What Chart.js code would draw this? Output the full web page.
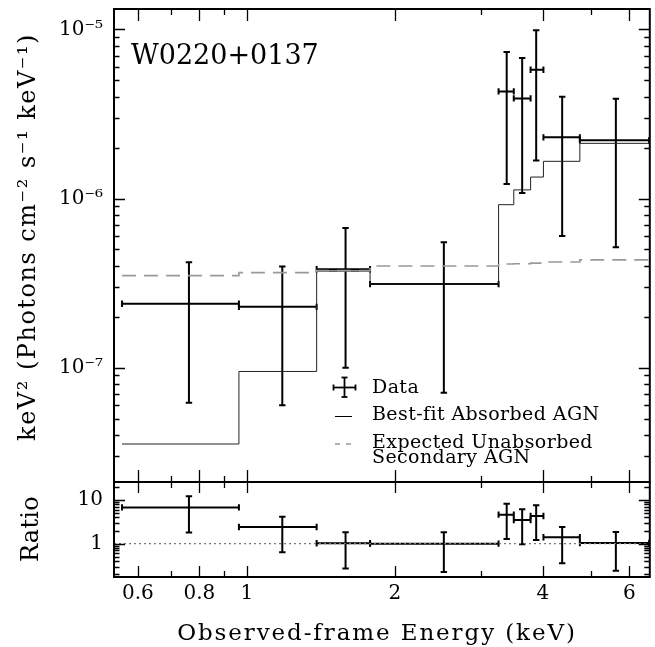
<!DOCTYPE html>
<html><head><meta charset="utf-8">
<script src="https://cdn.jsdelivr.net/npm/chart.js@4.4.0/dist/chart.umd.min.js"></script>
<style>
html,body{margin:0;padding:0;background:#fff;}
#wrap{position:relative;width:655px;height:647px;overflow:hidden;background:#fff}
#top{position:absolute;left:0;top:0}
#bot{position:absolute;left:0;top:470px}
</style></head><body>
<div id="wrap"><canvas id="top" width="655" height="490"></canvas><canvas id="bot" width="655" height="177"></canvas></div>
<script>
// ---- data ----
const binLo  = [0.557, 0.963, 1.386, 1.78, 3.25, 3.49, 3.776, 4.01, 4.756];
const binHi  = [0.963, 1.386, 1.78, 3.25, 3.49, 3.776, 4.01, 4.756, 6.58];
const energy = [0.762, 1.18, 1.587, 2.515, 3.376, 3.63, 3.876, 4.378, 5.63];
const flux   = [2.39e-7, 2.29e-7, 3.82e-7, 3.12e-7, 4.3e-6, 3.91e-6, 5.77e-6, 2.30e-6, 2.21e-6];
const fluxLo = [6.2e-8, 6.0e-8, 1.0e-7, 7.1e-8, 1.22e-6, 1.08e-6, 1.68e-6, 6.0e-7, 5.15e-7];
const fluxHi = [4.2e-7, 3.96e-7, 6.7e-7, 5.52e-7, 7.34e-6, 6.77e-6, 9.9e-6, 4.0e-6, 3.89e-6];
const bestFit    = [3.54e-8, 9.5e-8, 3.72e-7, 3.12e-7, 9.2e-7, 1.125e-6, 1.34e-6, 1.66e-6, 2.12e-6];
const unabsorbed = [3.5e-7, 3.65e-7, 3.75e-7, 3.99e-7, 4.1e-7, 4.12e-7, 4.15e-7, 4.22e-7, 4.34e-7];
const ratio   = [6.75, 2.41, 1.02, 1.0, 4.61, 3.48, 4.3, 1.40, 1.04];
const ratioLo = [1.79, 0.635, 0.27, 0.225, 1.28, 0.97, 1.22, 0.356, 0.24];
const ratioHi = [12.2, 4.15, 1.82, 1.82, 8.2, 6.1, 7.6, 2.41, 1.85];

const xTicksMajor = [0.6, 0.8, 1, 2, 4, 6];
const xTickLabels = ['0.6', '0.8', '1', '2', '4', '6'];
const xTicksMinor = [0.7, 0.9, 3, 5];
const yTicksMajor = [1e-7, 1e-6, 1e-5];
const yTickLabels = ['10⁻⁷', '10⁻⁶', '10⁻⁵'];
const rTicksMajor = [1, 10];
const rTickLabels = ['1', '10'];

const X_MIN = 0.5364, X_MAX = 6.60;
const Y_MIN = 2.11e-8, Y_MAX = 1.32e-5;
const R_MIN = 0.173, R_MAX = 25.7;

const FONT = "'DejaVu Serif', serif";
Chart.defaults.font.family = FONT;
Chart.defaults.color = '#000';

function minorLog(min, max) {
  const out = [];
  for (let e = Math.floor(Math.log10(min)); e <= Math.ceil(Math.log10(max)); e++) {
    for (let m = 2; m <= 9; m++) { const v = m * Math.pow(10, e); if (v > min && v < max) out.push(v); }
  }
  return out;
}
function labelFor(majors, labels) {
  return v => { for (let i = 0; i < majors.length; i++) if (Math.abs(Math.log10(v) - Math.log10(majors[i])) < 1e-6) return labels[i]; return ''; };
}
function hBars(y) { const p = []; y.forEach((v, i) => p.push({x: binLo[i], y: v}, {x: binHi[i], y: v}, {x: binHi[i], y: null})); return p; }
function vBars(lo, hi) { const p = []; lo.forEach((v, i) => p.push({x: energy[i], y: v}, {x: energy[i], y: hi[i]}, {x: energy[i], y: null})); return p; }
function steps(v) { const p = v.map((val, i) => ({x: binLo[i], y: val})); p.push({x: binHi[v.length - 1], y: v[v.length - 1]}); return p; }

const errH = {showLine: true, spanGaps: false, borderColor: '#000', borderWidth: 2, pointStyle: 'line', pointRotation: 90, pointRadius: 3.2, pointBorderWidth: 2, pointBorderColor: '#000', pointHoverRadius: 0};
const errV = {showLine: true, spanGaps: false, borderColor: '#000', borderWidth: 2, pointStyle: 'line', pointRotation: 0, pointRadius: 3.2, pointBorderWidth: 2, pointBorderColor: '#000', pointHoverRadius: 0};

function spaced(ctx, px) { try { ctx.letterSpacing = px + 'px'; } catch (e) {} }

function drawText(ctx, text, x, y, size, spacing, rot, align) {
  ctx.save();
  ctx.translate(x, y);
  if (rot) ctx.rotate(rot);
  ctx.font = size + 'px ' + FONT;
  spaced(ctx, spacing);
  ctx.fillStyle = '#000';
  ctx.textAlign = align || 'center';
  ctx.textBaseline = 'middle';
  ctx.fillText(text, 0, 0);
  ctx.restore();
}

function framePlugin(o) {
  return {
    id: 'frame',
    afterDatasetsDraw(chart) {
      const {ctx, chartArea: a, scales} = chart;
      const xs = scales.x, ys = scales.y;
      ctx.save();
      ctx.strokeStyle = '#000';
      ctx.lineWidth = 1.3;
      ctx.beginPath();
      const xt = [[xTicksMajor, o.xMaj], [xTicksMinor, o.xMin]];
      for (const [vals, len] of xt) for (const v of vals) {
        const px = Math.round(xs.getPixelForValue(v)) + 0.5;
        ctx.moveTo(px, a.top); ctx.lineTo(px, a.top + len);
        ctx.moveTo(px, a.bottom); ctx.lineTo(px, a.bottom - len);
      }
      const yt = [[o.yMajor, 11], [o.yMinor, 5.5]];
      for (const [vals, len] of yt) for (const v of vals) {
        const py = Math.round(ys.getPixelForValue(v)) + 0.5;
        ctx.moveTo(a.left, py); ctx.lineTo(a.left + len, py);
        ctx.moveTo(a.right, py); ctx.lineTo(a.right - len, py);
      }
      ctx.stroke();
      ctx.lineWidth = 2;
      ctx.strokeRect(a.left, a.top, a.width, a.height);
      ctx.restore();
      if (o.extra) o.extra(chart);
    }
  };
}

function seg(ctx, x1, y1, x2, y2) { ctx.beginPath(); ctx.moveTo(x1, y1); ctx.lineTo(x2, y2); ctx.stroke(); }

function topAnnotations(chart) {
  const ctx = chart.ctx;
  drawText(ctx, 'keV² (Photons cm⁻² s⁻¹ keV⁻¹)', 28.5, 237, 24, 1.5, -Math.PI / 2);
  drawText(ctx, 'W0220+0137', 131, 57, 27, 0, 0, 'left');
  drawText(ctx, 'Data', 372, 388, 19, 0.4, 0, 'left');
  drawText(ctx, 'Best-fit Absorbed AGN', 372, 415, 19, 0.4, 0, 'left');
  drawText(ctx, 'Expected Unabsorbed', 372, 443, 19, 0.4, 0, 'left');
  drawText(ctx, 'Secondary AGN', 372, 458.5, 19, 0.4, 0, 'left');
  ctx.save();
  ctx.strokeStyle = '#000';
  ctx.lineWidth = 1.8;
  seg(ctx, 333.5, 387.5, 355.5, 387.5);
  seg(ctx, 344.5, 377.5, 344.5, 397);
  seg(ctx, 333.5, 384.5, 333.5, 390.5);
  seg(ctx, 355.5, 384.5, 355.5, 390.5);
  seg(ctx, 341.5, 377.5, 347.5, 377.5);
  seg(ctx, 341.5, 397, 347.5, 397);
  ctx.lineWidth = 1;
  seg(ctx, 335, 416.5, 352, 416.5);
  ctx.strokeStyle = '#999';
  ctx.lineWidth = 1.5;
  ctx.setLineDash([5, 6]);
  seg(ctx, 335, 444, 352, 444);
  ctx.restore();
}

function botAnnotations(chart) {
  const ctx = chart.ctx;
  // canvas is offset by 470px
  drawText(ctx, 'Ratio', 31.5, 529 - 470, 24, 0.3, -Math.PI / 2);
  drawText(ctx, 'Observed-frame Energy (keV)', 377, 634.5 - 470, 23, 1.9, 0);
}

function fixY(w) { return s => { s.width = w; s.paddingTop = 0; s.paddingBottom = 0; s.paddingLeft = 0; s.paddingRight = 0; }; }

// ---- top panel ----
new Chart(document.getElementById('top'), {
  type: 'scatter',
  data: {
    datasets: [
      {data: steps(unabsorbed), showLine: true, stepped: 'before', borderColor: '#999', borderWidth: 1.6, borderDash: [14, 8], pointRadius: 0},
      {data: steps(bestFit), showLine: true, stepped: 'before', borderColor: '#222', borderWidth: 1, pointRadius: 0},
      Object.assign({data: hBars(flux)}, errH),
      Object.assign({data: vBars(fluxLo, fluxHi)}, errV)
    ]
  },
  options: {
    responsive: false, animation: false, events: [],
    layout: {padding: {left: 0, right: 5, top: 9, bottom: 8}},
    plugins: {legend: {display: false}, tooltip: {enabled: false}},
    scales: {
      x: {type: 'logarithmic', min: X_MIN, max: X_MAX, display: false},
      y: {
        type: 'logarithmic', min: Y_MIN, max: Y_MAX, position: 'left',
        grid: {display: false, drawTicks: false}, border: {display: false},
        afterBuildTicks: s => { s.ticks = yTicksMajor.map(v => ({value: v})); },
        afterFit: fixY(114),
        ticks: {autoSkip: false, padding: 11, font: {size: 20}, color: '#000', callback: labelFor(yTicksMajor, yTickLabels)}
      }
    }
  },
  plugins: [framePlugin({xMaj: 12, xMin: 6, yMajor: yTicksMajor, yMinor: minorLog(Y_MIN, Y_MAX), extra: topAnnotations})]
});

// ---- ratio panel ----
new Chart(document.getElementById('bot'), {
  type: 'scatter',
  data: {
    datasets: [
      {data: [{x: X_MIN, y: 1}, {x: X_MAX, y: 1}], showLine: true, borderColor: '#777', borderWidth: 1.3, borderDash: [2, 3], pointRadius: 0},
      Object.assign({data: hBars(ratio)}, errH),
      Object.assign({data: vBars(ratioLo, ratioHi)}, errV)
    ]
  },
  options: {
    responsive: false, animation: false, events: [],
    layout: {padding: {left: 0, right: 5, top: 12, bottom: 0}},
    plugins: {legend: {display: false}, tooltip: {enabled: false}},
    scales: {
      x: {
        type: 'logarithmic', min: X_MIN, max: X_MAX, position: 'bottom',
        grid: {display: false, drawTicks: false}, border: {display: false},
        afterBuildTicks: s => { s.ticks = xTicksMajor.map(v => ({value: v})); },
        afterFit: s => { s.height = 70; s.paddingLeft = 0; s.paddingRight = 0; s.paddingTop = 0; s.paddingBottom = 0; },
        ticks: {autoSkip: false, maxRotation: 0, padding: 5, font: {size: 20}, color: '#000', callback: labelFor(xTicksMajor, xTickLabels)}
      },
      y: {
        type: 'logarithmic', min: R_MIN, max: R_MAX, position: 'left',
        grid: {display: false, drawTicks: false}, border: {display: false},
        afterBuildTicks: s => { s.ticks = rTicksMajor.map(v => ({value: v})); },
        afterFit: fixY(114),
        ticks: {autoSkip: false, padding: 11, font: {size: 20}, color: '#000', callback: labelFor(rTicksMajor, rTickLabels)}
      }
    }
  },
  plugins: [framePlugin({xMaj: 11, xMin: 6, yMajor: rTicksMajor, yMinor: minorLog(R_MIN, R_MAX), extra: botAnnotations})]
});
</script>
</body></html>
